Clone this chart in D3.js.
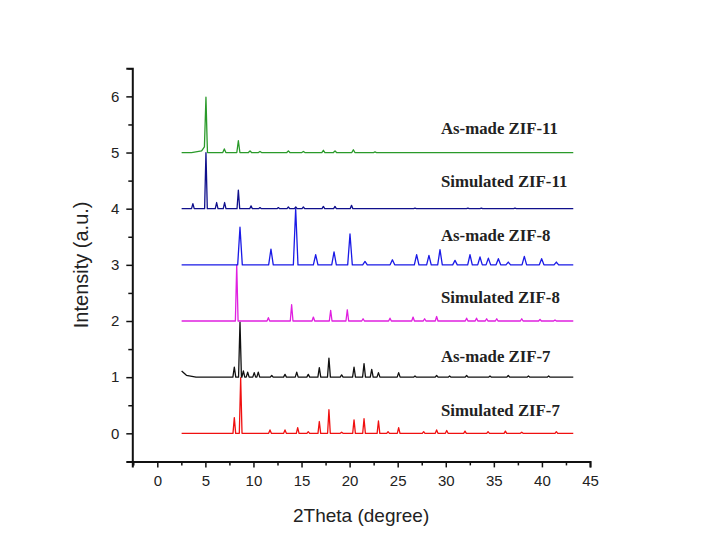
<!DOCTYPE html>
<html lang="en">
<head>
<meta charset="UTF-8" />
<title>XRD patterns of ZIF-7, ZIF-8 and ZIF-11</title>
<script src="https://cdn.jsdelivr.net/npm/d3@7/dist/d3.min.js"></script>
<style>
  body { margin: 0; background: #fff; }
  svg text { font-family: Arial, "Liberation Sans", sans-serif; fill: #222; }
  .axis path, .axis line { stroke: #111; }
  .series-label { font-family: "Liberation Serif", "Times New Roman", serif; font-weight: bold; font-size: 16.8px; }
</style>
</head>
<body>
<svg id="chart" width="709" height="546"></svg>
<script>
// tick values
var xTicks = [0, 5, 10, 15, 20, 25, 30, 35, 40, 45];
var xMinorTicks = [-2.5, 2.5, 7.5, 12.5, 17.5, 22.5, 27.5, 32.5, 37.5, 42.5];
var yTicks = [0, 1, 2, 3, 4, 5, 6];
var yMinorTicks = [-0.5, 0.5, 1.5, 2.5, 3.5, 4.5, 5.5, 6.5];

// series, bottom to top
var seriesNames = ["Simulated ZIF-7", "As-made ZIF-7", "Simulated ZIF-8",
                   "As-made ZIF-8", "Simulated ZIF-11", "As-made ZIF-11"];
var seriesOffsets = [0, 1, 2, 3, 4, 5];
var labelY = [0.42, 1.38, 2.43, 3.53, 4.49, 5.44];
var scanStart = 2.53, scanEnd = 43.26;

// peaks: [position, height, left half-width, right half-width]
var simZif7 = [[8.01,0.28],[8.67,0.99],[11.72,0.06],[13.28,0.06],[14.6,0.1],[15.7,0.03],
  [16.85,0.21],[17.85,0.42],[19.17,0.02],[20.46,0.24],[21.5,0.26],[23.0,0.22],[24.0,0.03],
  [25.1,0.1],[27.7,0.03],[29.05,0.06],[30.1,0.05],[32.0,0.04],[34.4,0.03],[36.2,0.04],
  [37.9,0.02],[41.5,0.03]];
var asMadeZif7 = [[2.53,0.05,0.01,1.5],[2.53,0.06,0.01,0.5],[8.01,0.18],[8.6,0.98],[8.95,0.11],
  [9.4,0.09],[10.08,0.08],[10.5,0.09],[11.9,0.03],[13.28,0.05],[14.5,0.09],[15.7,0.05],
  [16.85,0.17],[17.85,0.34],[19.17,0.04],[20.46,0.18],[21.5,0.24],[22.3,0.14],[23.0,0.08],
  [25.1,0.08],[26.8,0.02],[29.05,0.03],[30.4,0.02],[32.17,0.03],[34.6,0.02],[36.5,0.03],
  [38.6,0.02],[40.7,0.02]];
var simZif8 = [[8.26,1.0],[11.55,0.06],[13.97,0.29],[16.23,0.07],[18.03,0.19],[19.76,0.2],
  [21.4,0.04],[24.2,0.05],[26.6,0.07],[27.8,0.04],[29.05,0.08],[32.17,0.05],[33.2,0.05],
  [34.25,0.04],[35.3,0.04],[37.9,0.04],[39.8,0.03],[41.36,0.02]];
var asMadeZif8 = [[8.6,0.67],[11.82,0.28],[14.39,1.0],[16.47,0.18],[18.38,0.23],[20.04,0.55],
  [21.6,0.06],[24.45,0.09],[26.97,0.18],[28.25,0.17],[29.4,0.27],[30.96,0.08],[32.52,0.18],
  [33.56,0.14],[34.43,0.12],[35.47,0.11],[36.5,0.05],[38.17,0.15],[39.97,0.11],[41.5,0.05]];
var simZif11 = [[3.7,0.09],[5.06,1.0],[6.17,0.11],[7.0,0.11],[8.43,0.33],[9.75,0.05],
  [10.68,0.02],[12.59,0.02],[13.63,0.03],[14.4,0.03],[15.19,0.03],[17.27,0.04],[18.48,0.04],
  [20.2,0.06],[26.8,0.01],[32.3,0.01],[33.7,0.01],[37.2,0.01]];
var asMadeZif11 = [[5.06,0.04,1.5,0.12],[5.06,0.1,0.45,0.12],[5.06,0.845],[6.97,0.065],[8.43,0.21],
  [9.64,0.03],[10.68,0.02],[13.63,0.03],[15.19,0.02],[17.27,0.04],[18.48,0.03],[20.39,0.05],
  [22.64,0.01]];

var seriesPeaks = [simZif7, asMadeZif7, simZif8, asMadeZif8, simZif11, asMadeZif11];
var seriesColors = ["#f01010", "#111111", "#e020e0", "#1a1ae6", "#10108c", "#2a9a2a"];
var peakWidths = [0.14, 0.15, 0.14, 0.24, 0.14, 0.16];

var svg = d3.select("#chart");
var x = d3.scaleLinear().domain([-2.6, 45]).range([132.3, 590]);
var y = d3.scaleLinear().domain([-0.5, 6.5]).range([461.4, 68.3]);

// sum of triangular peaks, evaluated at every break point
function profile(peaks, w) {
  var xs = [scanStart, scanEnd];
  peaks.forEach(function(p) {
    var wl = p[2] || w, wr = p[3] || w;
    xs.push(p[0] - wl, p[0], p[0] + wr);
  });
  xs = xs.filter(function(v) { return v >= scanStart && v <= scanEnd; }).sort(d3.ascending);
  return xs.map(function(v) {
    var val = d3.sum(peaks, function(p) {
      var wl = p[2] || w, wr = p[3] || w;
      if (v >= p[0] - wl && v <= p[0]) return p[1] * (v - (p[0] - wl)) / wl;
      if (v > p[0] && v <= p[0] + wr) return p[1] * ((p[0] + wr) - v) / wr;
      return 0;
    });
    return [v, val];
  });
}

var line = d3.line().x(function(d) { return x(d[0]); }).y(function(d) { return y(d[1]); });

seriesPeaks.forEach(function(peaks, i) {
  var pts = profile(peaks, peakWidths[i]).map(function(d) { return [d[0], d[1] + seriesOffsets[i]]; });
  svg.append("path")
    .datum(pts)
    .attr("d", line)
    .attr("fill", "none")
    .attr("stroke", seriesColors[i])
    .attr("stroke-width", 1.3)
    .attr("stroke-linejoin", "round");
  svg.append("text")
    .attr("class", "series-label")
    .attr("x", x(29.5))
    .attr("y", y(labelY[i]))
    .attr("dy", "0.35em")
    .text(seriesNames[i]);
});

// axes
svg.append("g").attr("class", "axis").attr("transform", "translate(0," + y(-0.5) + ")")
  .call(d3.axisBottom(x).tickValues(xTicks).tickSize(6).tickPadding(8).tickFormat(d3.format("d")));
svg.append("g").attr("class", "axis").attr("transform", "translate(0," + y(-0.5) + ")")
  .call(d3.axisBottom(x).tickValues(xMinorTicks).tickSize(4).tickFormat(""))
  .select(".domain").remove();
svg.append("g").attr("class", "axis").attr("transform", "translate(" + x(-2.6) + ",0)")
  .call(d3.axisLeft(y).tickValues(yTicks).tickSize(6).tickPadding(7).tickFormat(d3.format("d")));
svg.append("g").attr("class", "axis").attr("transform", "translate(" + x(-2.6) + ",0)")
  .call(d3.axisLeft(y).tickValues(yMinorTicks).tickSize(4).tickFormat(""))
  .select(".domain").remove();

svg.selectAll(".axis .domain").attr("stroke-width", 2);
svg.selectAll(".axis line").attr("stroke-width", 1.5);
svg.selectAll(".axis text").style("font-size", "15px").attr("fill", "#222");

svg.append("text")
  .attr("x", (x(-2.6) + x(45)) / 2)
  .attr("y", 522)
  .attr("text-anchor", "middle")
  .style("font-size", "19px")
  .text("2Theta (degree)");

svg.append("text")
  .attr("transform", "translate(88," + (y(-0.5) + y(6.5)) / 2 + ") rotate(-90)")
  .attr("text-anchor", "middle")
  .style("font-size", "20px")
  .text("Intensity (a.u.)");
</script>
</body>
</html>
